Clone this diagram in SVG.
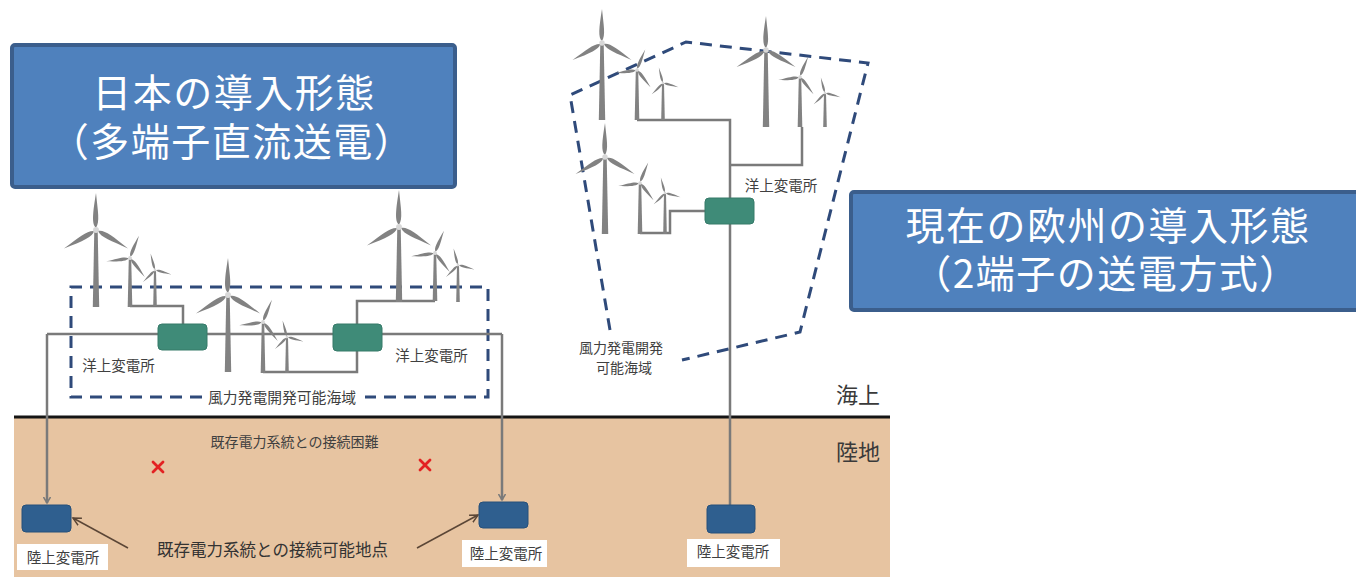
<svg xmlns="http://www.w3.org/2000/svg" xmlns:xlink="http://www.w3.org/1999/xlink" width="1356" height="577" viewBox="0 0 1356 577">
  <style>
    .jp { font-family: "Noto Sans CJK JP", "Noto Sans", sans-serif; }
    .title { fill: #ffffff; font-size: 39px; letter-spacing: 1.5px; text-anchor: middle; }
    .lbl { fill: #404040; font-size: 14.5px; text-anchor: middle; }
    .zone { fill: #3a3a3a; font-size: 22px; text-anchor: end; }
    .tbox { fill: #4F81BD; stroke: #3B5E8C; stroke-width: 4; }
    .cable { fill: none; stroke: #7a7a7a; stroke-width: 2.5; }
    .area { fill: none; stroke: #2F4A7A; stroke-width: 3; stroke-dasharray: 12 8; }
    .sea-sub { fill: #3F8B78; stroke: #367a69; stroke-width: 1; }
    .land-sub { fill: #2F5F8F; stroke: #26507a; stroke-width: 1; }
    .tower { fill: #828282; }
    .blade { fill: #828282; }
    .hub { fill: #d8d8d8; }
    .pointer { fill: none; stroke: #5B4636; stroke-width: 1.5; }
    .cross { stroke: #E32222; stroke-width: 2.8; stroke-linecap: round; }
    .wbox { fill: #ffffff; }
  </style>
  <defs>
    <!-- one blade, 100 units long, pointing up from the hub -->
    <path id="blade" class="blade" d="M0,-6 C-12,-16 -9,-45 0,-100 C5,-50 11,-22 0,-6 Z"/>
    <g id="rotor">
      <use xlink:href="#blade"/>
      <use xlink:href="#blade" transform="rotate(120)"/>
      <use xlink:href="#blade" transform="rotate(240)"/>
      <circle class="hub" r="8"/>
    </g>
    <marker id="drop" markerWidth="8" markerHeight="8" refX="6" refY="4" orient="auto" markerUnits="userSpaceOnUse">
      <path d="M0,0.5 L6,4 L0,7.5" fill="none" stroke="#7a7a7a" stroke-width="1.5"/>
    </marker>
    <marker id="point" markerWidth="10" markerHeight="10" refX="8" refY="5" orient="auto" markerUnits="userSpaceOnUse">
      <path d="M0,1 L8,5 L0,9" fill="none" stroke="#5B4636" stroke-width="1.5"/>
    </marker>
  </defs>

  <rect width="1356" height="577" fill="#ffffff"/>

  <!-- land -->
  <g id="land">
    <rect x="14" y="417" width="876" height="160" fill="#E7C4A1"/>
    <line x1="14" y1="417" x2="890" y2="417" stroke="#151515" stroke-width="3"/>
    <text class="jp zone" x="880" y="403">海上</text>
    <text class="jp zone" x="880" y="460">陸地</text>
  </g>

  <!-- development areas -->
  <g id="area-left">
    <path class="area" d="M202,397 H71 V287 H488 V397 H365"/>
    <text class="jp lbl" x="282" y="403" style="font-size:14.8px">風力発電開発可能海域</text>
  </g>
  <g id="area-eu">
    <path class="area" d="M610,330 L570,95 L686,42 L868,63 L800,332 L682,360"/>
    <text class="jp lbl" style="font-size:14px"><tspan x="621" y="353">風力発電開発</tspan><tspan x="624" y="373">可能海域</tspan></text>
  </g>

  <!-- cables and pointers -->
  <g id="connectors">
    <!-- left system: turbines to offshore substations -->
    <path class="cable" d="M130,306 H183 V324"/>
    <path class="cable" d="M263,372 H357 V351"/>
    <path class="cable" d="M357,324 V301 H435"/>
    <path class="cable" d="M47,334 H502"/>
    <path class="cable" d="M47,334 V503" marker-end="url(#drop)"/>
    <path class="cable" d="M502,334 V500" marker-end="url(#drop)"/>
    <!-- two-terminal system -->
    <path class="cable" d="M637,120 H730 V198"/>
    <path class="cable" d="M730,165 H802 V127"/>
    <path class="cable" d="M640,233 H670 V211 H705"/>
    <path class="cable" d="M730,224 V505"/>
    <!-- pointers to connectable points -->
    <path class="pointer" d="M128,548 L73,518" marker-end="url(#point)"/>
    <path class="pointer" d="M417,548 L478,515" marker-end="url(#point)"/>
  </g>

  <!-- turbines: tower + rotor -->
  <g id="turbines">
    <g id="t1"><polygon class="tower" points="94.3,230 97.7,230 99.2,307 92.8,307"/><use xlink:href="#rotor" transform="translate(96,230) scale(0.37)"/></g>
    <g id="t2"><polygon class="tower" points="128.8,258 131.2,258 132.3,307 127.7,307"/><use xlink:href="#rotor" transform="translate(130,258) rotate(22) scale(0.24)"/></g>
    <g id="t3"><polygon class="tower" points="154,270 156,270 156.8,306 153.2,306"/><use xlink:href="#rotor" transform="translate(155,270) rotate(-15) scale(0.17)"/></g>
    <g id="t4"><polygon class="tower" points="226.3,295 229.7,295 231.2,372 224.8,372"/><use xlink:href="#rotor" transform="translate(228,295) scale(0.37)"/></g>
    <g id="t5"><polygon class="tower" points="261.8,322 264.2,322 265.3,373 260.7,373"/><use xlink:href="#rotor" transform="translate(263,322) rotate(22) scale(0.24)"/></g>
    <g id="t6"><polygon class="tower" points="286,337 288,337 288.8,373 285.2,373"/><use xlink:href="#rotor" transform="translate(287,337) rotate(-15) scale(0.17)"/></g>
    <g id="t7"><polygon class="tower" points="397.3,227 400.7,227 402.2,302 395.8,302"/><use xlink:href="#rotor" transform="translate(399,227) scale(0.37)"/></g>
    <g id="t8"><polygon class="tower" points="433.8,253 436.2,253 437.3,301 432.7,301"/><use xlink:href="#rotor" transform="translate(435,253) rotate(22) scale(0.24)"/></g>
    <g id="t9"><polygon class="tower" points="457,265 459,265 459.8,302 456.2,302"/><use xlink:href="#rotor" transform="translate(458,265) rotate(-15) scale(0.17)"/></g>

    <g id="e1"><polygon class="tower" points="600.3,43 603.7,43 605.2,120 598.8,120"/><use xlink:href="#rotor" transform="translate(602,43) scale(0.34)"/></g>
    <g id="e2"><polygon class="tower" points="635.8,70 638.2,70 639.3,120 634.7,120"/><use xlink:href="#rotor" transform="translate(637,70) rotate(22) scale(0.22)"/></g>
    <g id="e3"><polygon class="tower" points="662,83 664,83 664.8,120 661.2,120"/><use xlink:href="#rotor" transform="translate(663,83) rotate(-15) scale(0.16)"/></g>
    <g id="e4"><polygon class="tower" points="764.3,50 767.7,50 769.2,127 762.8,127"/><use xlink:href="#rotor" transform="translate(766,50) scale(0.34)"/></g>
    <g id="e5"><polygon class="tower" points="798.8,77 801.2,77 802.3,127 797.7,127"/><use xlink:href="#rotor" transform="translate(800,77) rotate(22) scale(0.22)"/></g>
    <g id="e6"><polygon class="tower" points="824,93 826,93 826.8,127 823.2,127"/><use xlink:href="#rotor" transform="translate(825,93) rotate(-15) scale(0.16)"/></g>
    <g id="e7"><polygon class="tower" points="603.3,157 606.7,157 608.2,234 601.8,234"/><use xlink:href="#rotor" transform="translate(605,157) scale(0.34)"/></g>
    <g id="e8"><polygon class="tower" points="638.8,183 641.2,183 642.3,234 637.7,234"/><use xlink:href="#rotor" transform="translate(640,183) rotate(22) scale(0.22)"/></g>
    <g id="e9"><polygon class="tower" points="664,193 666,193 666.8,234 663.2,234"/><use xlink:href="#rotor" transform="translate(665,193) rotate(-15) scale(0.16)"/></g>
  </g>

  <!-- offshore substations -->
  <g id="sea-sub-left">
    <rect class="sea-sub" x="158" y="324" width="49" height="26" rx="4"/>
    <text class="jp lbl" x="118.5" y="371">洋上変電所</text>
  </g>
  <g id="sea-sub-right">
    <rect class="sea-sub" x="333" y="324" width="49" height="27" rx="4"/>
    <text class="jp lbl" x="431.5" y="361">洋上変電所</text>
  </g>
  <g id="sea-sub-eu">
    <rect class="sea-sub" x="705" y="198" width="49" height="26" rx="4"/>
    <text class="jp lbl" x="781" y="191">洋上変電所</text>
  </g>

  <!-- onshore substations -->
  <g id="land-sub-left">
    <rect class="land-sub" x="22" y="505" width="49" height="27" rx="4"/>
    <rect class="wbox" x="17" y="544" width="91" height="26"/>
    <text class="jp lbl" x="63" y="563">陸上変電所</text>
  </g>
  <g id="land-sub-right">
    <rect class="land-sub" x="479" y="502" width="49" height="26" rx="4"/>
    <rect class="wbox" x="462" y="540" width="85" height="27"/>
    <text class="jp lbl" x="506" y="559">陸上変電所</text>
  </g>
  <g id="land-sub-eu">
    <rect class="land-sub" x="707" y="505" width="48" height="28" rx="4"/>
    <rect class="wbox" x="687" y="539" width="93" height="28"/>
    <text class="jp lbl" x="733" y="557">陸上変電所</text>
  </g>

  <!-- notes on land -->
  <g id="notes">
    <text class="jp lbl" x="294.5" y="447" style="font-size:14px">既存電力系統との接続困難</text>
    <path class="cross" d="M153,462 L163,472 M163,462 L153,472"/>
    <path class="cross" d="M420,460 L430,470 M430,460 L420,470"/>
    <text class="jp lbl" x="272.5" y="556" style="font-size:16.5px;fill:#333">既存電力系統との接続可能地点</text>
  </g>

  <!-- headings -->
  <g id="title-japan">
    <rect class="tbox" x="12" y="45" width="443" height="142" rx="3"/>
    <text class="jp title"><tspan x="234" y="107">日本の導入形態</tspan><tspan x="232" y="156">（多端子直流送電）</tspan></text>
  </g>
  <g id="title-europe">
    <rect class="tbox" x="851" y="192" width="520" height="118" rx="3"/>
    <text class="jp title"><tspan x="1108" y="240">現在の欧州の導入形態</tspan><tspan x="1106" y="288">（2端子の送電方式）</tspan></text>
  </g>
</svg>
